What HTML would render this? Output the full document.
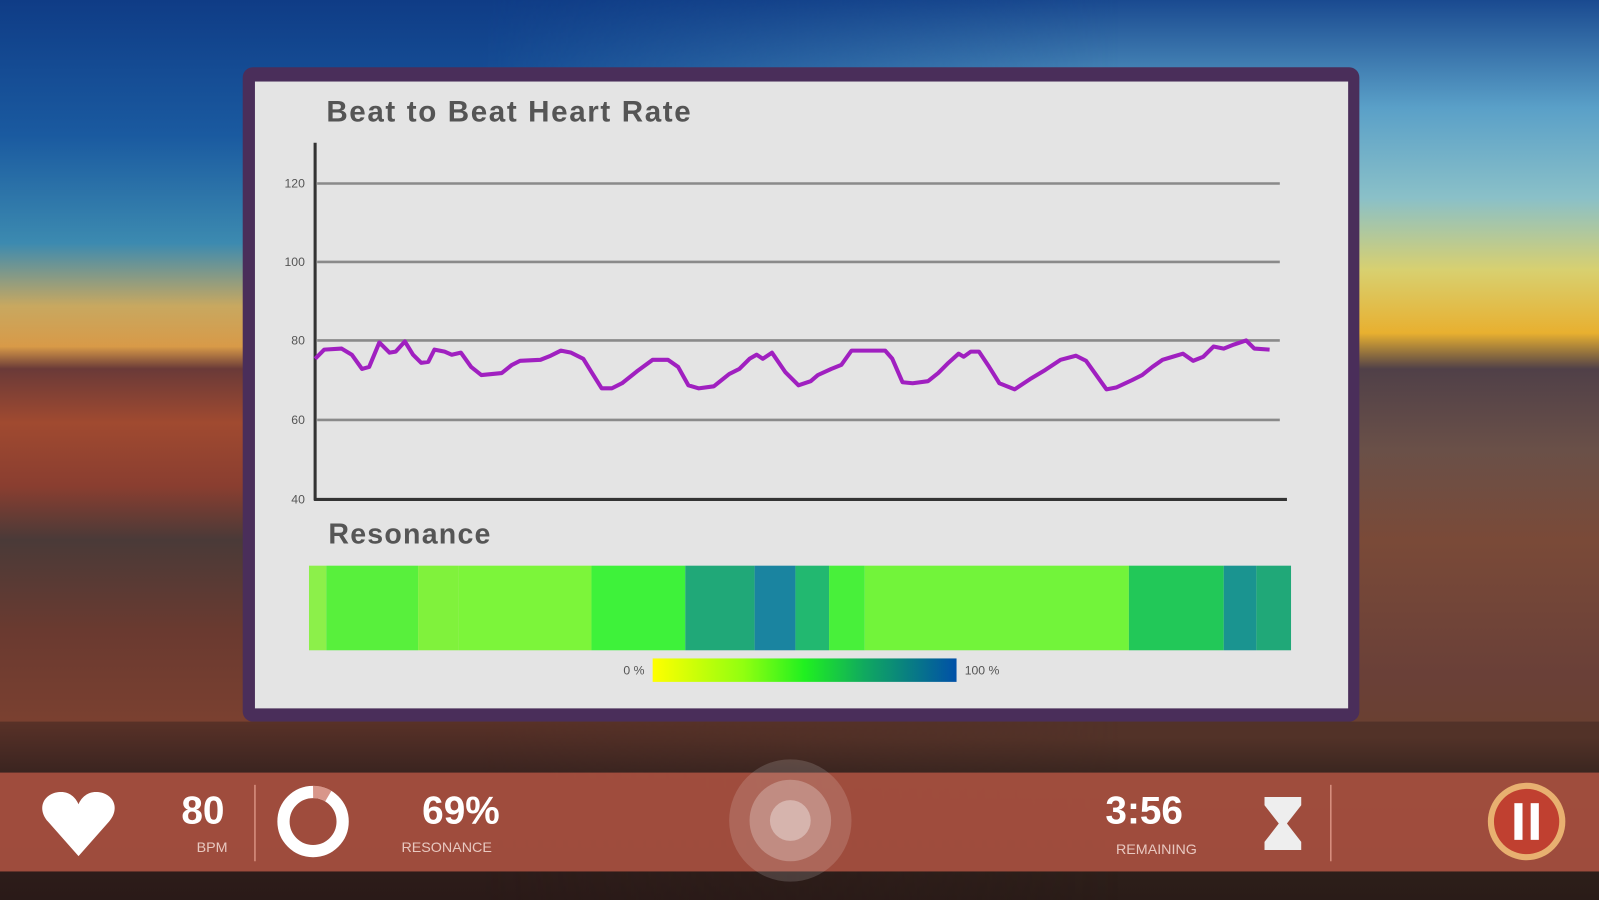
<!DOCTYPE html>
<html><head><meta charset="utf-8"><style>
html,body{margin:0;padding:0;overflow:hidden;background:#000}
svg{display:block}
text{font-family:"Liberation Sans",sans-serif}
</style></head><body>
<svg width="1599" height="900" viewBox="0 0 1568 883" preserveAspectRatio="none" xmlns="http://www.w3.org/2000/svg">
<defs>
<linearGradient id="sky" x1="0" y1="0" x2="0" y2="1">
<stop offset="0" stop-color="#0f3c86"/>
<stop offset="0.15" stop-color="#1a5aa0"/>
<stop offset="0.27" stop-color="#3c8ab0"/>
<stop offset="0.34" stop-color="#c8a860"/>
<stop offset="0.385" stop-color="#d89a48"/>
<stop offset="0.41" stop-color="#6a3a38"/>
<stop offset="0.47" stop-color="#a04a30"/>
<stop offset="0.54" stop-color="#8a3e30"/>
<stop offset="0.6" stop-color="#4a3a38"/>
<stop offset="0.7" stop-color="#6a3a30"/>
<stop offset="0.8" stop-color="#7a4030"/>
<stop offset="0.86" stop-color="#3a2420"/>
<stop offset="1" stop-color="#2a1a18"/>
</linearGradient>
<linearGradient id="skyR" x1="0" y1="0" x2="0" y2="1">
<stop offset="0" stop-color="#1a4a90"/>
<stop offset="0.12" stop-color="#5aa0c8"/>
<stop offset="0.22" stop-color="#8ac0c8"/>
<stop offset="0.3" stop-color="#d8d070"/>
<stop offset="0.37" stop-color="#e8b030"/>
<stop offset="0.41" stop-color="#504048"/>
<stop offset="0.5" stop-color="#6a5048"/>
<stop offset="0.6" stop-color="#7a4a38"/>
<stop offset="0.75" stop-color="#6a4038"/>
<stop offset="0.82" stop-color="#6a4030"/>
<stop offset="0.86" stop-color="#3a2820"/>
<stop offset="1" stop-color="#2a1c18"/>
</linearGradient>
<linearGradient id="blend" x1="0" y1="0" x2="1" y2="0">
<stop offset="0" stop-color="#000" stop-opacity="0"/>
<stop offset="1" stop-color="#000" stop-opacity="0"/>
</linearGradient>
<linearGradient id="cb" x1="0" y1="0" x2="1" y2="0">
<stop offset="0" stop-color="#ffff00"/>
<stop offset="0.3" stop-color="#90ff10"/>
<stop offset="0.5" stop-color="#20f020"/>
<stop offset="0.7" stop-color="#10a860"/>
<stop offset="1" stop-color="#0050a8"/>
</linearGradient>
<linearGradient id="mask" x1="0" y1="0" x2="1" y2="0">
<stop offset="0.3" stop-color="#fff" stop-opacity="1"/>
<stop offset="0.7" stop-color="#fff" stop-opacity="0"/>
</linearGradient>
<mask id="m"><rect width="1568" height="883" fill="url(#mask)"/></mask>
</defs>
<rect width="1568" height="883" fill="url(#skyR)"/>
<rect width="1568" height="883" fill="url(#sky)" mask="url(#m)"/>
<!-- panel -->
<rect x="238" y="66" width="1095" height="642" rx="10" fill="#4a2e5a"/>
<rect x="250" y="80" width="1072" height="615" fill="#e4e4e4"/>
<text x="320" y="119" font-size="29" font-weight="bold" fill="#555" letter-spacing="1.6">Beat to Beat Heart Rate</text>
<g stroke="#8a8a8a" stroke-width="2.5">
<line x1="311" y1="180" x2="1255" y2="180"/>
<line x1="311" y1="257" x2="1255" y2="257"/>
<line x1="311" y1="334" x2="1255" y2="334"/>
<line x1="311" y1="412" x2="1255" y2="412"/>
</g>
<line x1="309" y1="140" x2="309" y2="491" stroke="#333" stroke-width="3"/>
<line x1="308" y1="490" x2="1262" y2="490" stroke="#333" stroke-width="3"/>
<g font-size="12" fill="#555" text-anchor="end">
<text x="299" y="184">120</text><text x="299" y="261">100</text>
<text x="299" y="338">80</text><text x="299" y="416">60</text><text x="299" y="494">40</text>
</g>
<polyline fill="none" stroke="#a020c0" stroke-width="4" stroke-linejoin="round" points="309,352 318,343 335,342 345,348 355,362 362,360 372,336 382,346 388,345 397,335 405,348 413,356 420,355 426,343 436,345 443,348 452,346 462,360 472,368 492,366 502,358 510,354 530,353 540,349 550,344 560,346 572,352 580,365 590,381 600,381 610,376 625,364 640,353 655,353 665,360 675,378 685,381 700,379 715,367 725,362 735,352 742,348 748,352 757,346 770,365 783,378 795,374 802,368 815,362 825,358 835,344 848,344 868,344 875,352 885,375 895,376 910,374 920,366 930,356 940,347 945,350 952,345 960,345 970,360 980,376 995,382 1010,372 1025,363 1040,353 1055,349 1065,354 1075,368 1085,382 1095,380 1110,373 1120,368 1130,360 1140,353 1150,350 1160,347 1170,354 1180,350 1190,340 1200,342 1210,338 1222,334 1230,342 1245,343"/>
<text x="322" y="533" font-size="28" font-weight="bold" fill="#555" letter-spacing="1.2">Resonance</text>
<g>
<rect x="303" y="555" width="17" height="83" fill="#8cf04a"/>
<rect x="320" y="555" width="90" height="83" fill="#58f03c"/>
<rect x="410" y="555" width="40" height="83" fill="#80f23c"/>
<rect x="450" y="555" width="130" height="83" fill="#7cf53a"/>
<rect x="580" y="555" width="92" height="83" fill="#3ef23a"/>
<rect x="672" y="555" width="68" height="83" fill="#20a878"/>
<rect x="740" y="555" width="40" height="83" fill="#1a84a0"/>
<rect x="780" y="555" width="33" height="83" fill="#22b870"/>
<rect x="813" y="555" width="35" height="83" fill="#48f03a"/>
<rect x="848" y="555" width="259" height="83" fill="#72f43a"/>
<rect x="1107" y="555" width="93" height="83" fill="#22c858"/>
<rect x="1200" y="555" width="32" height="83" fill="#1a9490"/>
<rect x="1232" y="555" width="34" height="83" fill="#20a878"/>
</g>
<rect x="640" y="646" width="298" height="23" fill="url(#cb)"/>
<text x="632" y="662" font-size="12" fill="#555" text-anchor="end">0 %</text>
<text x="946" y="662" font-size="12" fill="#555">100 %</text>
<!-- bottom bar -->
<rect x="0" y="708" width="1568" height="50" fill="#3a2420" opacity="0.5"/>
<rect x="0" y="758" width="1568" height="97" fill="#a85040" opacity="0.92"/>
<path d="M77,840 L47,806 C35,792 44,777 60,777 C68,777 74,782 77,789 C80,782 86,777 94,777 C110,777 119,792 107,806 Z" fill="#fff"/>
<text x="199" y="808" font-size="38" font-weight="bold" fill="#fff" text-anchor="middle">80</text>
<text x="208" y="836" font-size="14" fill="#e8c8c0" text-anchor="middle">BPM</text>
<line x1="250" y1="770" x2="250" y2="845" stroke="#d89080" stroke-width="1.5"/>
<circle cx="307" cy="806" r="29" fill="none" stroke="#fff" stroke-width="12"/>
<path d="M307,777 A29,29 0 0 1 322,781" fill="none" stroke="#c86a58" stroke-width="12" opacity="0.7"/>
<text x="452" y="808" font-size="38" font-weight="bold" fill="#fff" text-anchor="middle">69%</text>
<text x="438" y="836" font-size="14" fill="#e8c8c0" text-anchor="middle">RESONANCE</text>
<circle cx="775" cy="805" r="60" fill="#fff" opacity="0.15"/>
<circle cx="775" cy="805" r="40" fill="#fff" opacity="0.25"/>
<circle cx="775" cy="805" r="20" fill="#fff" opacity="0.35"/>
<text x="1122" y="808" font-size="38" font-weight="bold" fill="#fff" text-anchor="middle">3:56</text>
<text x="1134" y="838" font-size="14" fill="#e8c8c0" text-anchor="middle">REMAINING</text>
<path d="M1240,782 H1276 V790 L1262,808 L1276,826 V834 H1240 V826 L1254,808 L1240,790 Z" fill="#eee"/>
<line x1="1305" y1="770" x2="1305" y2="845" stroke="#d89080" stroke-width="1.5"/>
<circle cx="1497" cy="806" r="38" fill="#e8b070"/>
<circle cx="1497" cy="806" r="32" fill="#c04030"/>
<rect x="1485" y="788" width="8" height="36" fill="#fff"/>
<rect x="1501" y="788" width="8" height="36" fill="#fff"/>
</svg>
</body></html>
